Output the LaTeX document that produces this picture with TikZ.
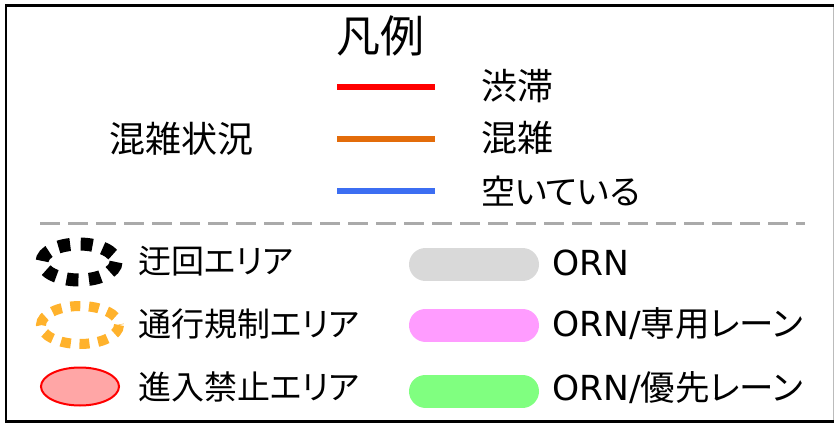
\documentclass[tikz,border=0pt]{standalone}
\usepackage{fontspec}
\setmainfont{Noto Sans CJK JP}[RawFeature=+palt]
\newfontfamily\latinfont{DejaVu Sans}
\definecolor{congest}{HTML}{E36C0A}
\definecolor{freeflow}{HTML}{3C6EF2}
\definecolor{detour}{HTML}{000000}
\definecolor{regul}{HTML}{FFB22C}
\definecolor{nofill}{HTML}{FFA6A6}
\definecolor{pillgray}{HTML}{D9D9D9}
\definecolor{pillpink}{HTML}{FF9CFF}
\definecolor{pillgreen}{HTML}{80FF80}
\definecolor{sepgray}{HTML}{AAAAAA}
\begin{document}
\begin{tikzpicture}[x=1pt,y=-1pt,
  lbl/.style={anchor=west, inner sep=0pt, text height=0.88em, text depth=0.12em},
  toplbl/.style={lbl, font=\fontsize{36}{40}\selectfont},
  botlbl/.style={lbl, font=\fontsize{33}{38}\selectfont},
  rightlbl/.style={lbl, font=\fontsize{34.5}{38}\selectfont},
  legline/.style={line width=6pt},
  pill/.style={line width=33pt, line cap=round},
]
\useasboundingbox (0,0) rectangle (834,425);
% frame
\draw[line width=2.5pt] (840,5.5) -- (6,5.5) -- (6,421.5) -- (840,421.5);
\draw[sepgray!80, line width=1pt] (833,7) -- (833,420);

% title
\node[lbl, font=\fontsize{44}{48}\selectfont] (title) at (336,49) {凡例};

% congestion legend
\node[toplbl] (status) at (109,149) {混雑状況};
\draw[legline, red] (337,87.5) coordinate (r1) -- (435,87.5) coordinate (r2);
\draw[legline, congest] (337,139) coordinate (o1) -- (435,139) coordinate (o2);
\draw[legline, freeflow] (337,191) coordinate (b1) -- (435,191) coordinate (b2);
\node[toplbl] (jam) at (481,96) {渋滞};
\node[toplbl] (busy) at (481,148) {混雑};
\node[toplbl, font=\fontsize{34}{38}\selectfont] (free) at (481,201) {空いている};

% separator
\draw[sepgray, line width=3pt, dash pattern=on 20pt off 8pt] (40,223) coordinate (s1) -- (805,223) coordinate (s2);

% area symbols
\draw[detour, line width=13pt, dash pattern=on 12pt off 10.5pt] (79,262) ellipse [x radius=37, y radius=18];
\draw[regul, line width=10pt, dash pattern=on 10pt off 8.7pt] (80,325) ellipse [x radius=39, y radius=19];
\draw[red, line width=2pt, fill=nofill] (80,386.5) ellipse [x radius=39, y radius=19];

\node[botlbl] (detourlbl) at (138,270) {迂回エリア};
\node[botlbl] (regullbl) at (138,333) {通行規制エリア};
\node[botlbl] (nolbl) at (138,396) {進入禁止エリア};

% lane pills
\draw[pill, pillgray] (425.5,264.5) -- (522.5,264.5);
\draw[pill, pillpink] (425.5,325) -- (522.5,325);
\draw[pill, pillgreen] (425.5,391) -- (522.5,391);

\node[rightlbl] (orn) at (552,272) {{\latinfont ORN}};
\node[rightlbl] (ornded) at (552,333) {{\latinfont ORN/}専用レーン};
\node[rightlbl] (ornpri) at (552,397) {{\latinfont ORN/}優先レーン};
\end{tikzpicture}
\end{document}
